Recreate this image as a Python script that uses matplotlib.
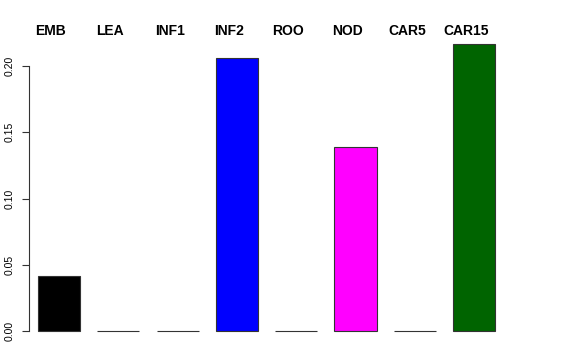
import numpy as np
import matplotlib.pyplot as plt

# tissue names and values
tissues = ['EMB', 'LEA', 'INF1', 'INF2', 'ROO', 'NOD', 'CAR5', 'CAR15']
values = [0.0415, 0.0, 0.0, 0.206, 0.0, 0.139, 0.0, 0.217]
colors = ['black', 'black', 'black', 'blue', 'black', 'magenta', 'black', '#006400']
yticks = [0.00, 0.05, 0.10, 0.15, 0.20]

plt.rcParams['font.family'] = ['Liberation Sans', 'DejaVu Sans']

fig = plt.figure(figsize=(5.76, 3.6), dpi=100)
W, H = 576, 360
# plot region in pixels: left 29, right 512, top 32, bottom 342.5
ax = fig.add_axes([29 / W, (H - 342.5) / H, (512 - 29) / W, (342.5 - 32) / H])

x = np.arange(len(tissues))
ax.bar(x, values, width=0.71, color=colors, edgecolor='#333333', linewidth=0.8)

ax.set_xlim(-0.506, 7.64)
ax.set_ylim(-0.00868, 0.2257)

for s in ['top', 'right', 'bottom']:
    ax.spines[s].set_visible(False)
ax.spines['left'].set_bounds(0, 0.20)
ax.spines['left'].set_color('#333333')
ax.spines['left'].set_linewidth(0.8)

ax.set_xticks([])
ax.set_yticks(yticks)
ax.set_yticklabels(['%.2f' % v for v in yticks], rotation=90, va='center', fontsize=7.5)
ax.tick_params(axis='y', length=5, width=0.8, color='#333333', pad=5)

# names above the plot, a little left of each bar
for lx, name in zip(x - 0.135, tissues):
    ax.text(lx, 1 - 3 / (342.5 - 32), name, transform=ax.get_xaxis_transform(),
            ha='center', va='baseline', fontsize=10, fontweight='bold')

fig.savefig('out.png', dpi=100)
